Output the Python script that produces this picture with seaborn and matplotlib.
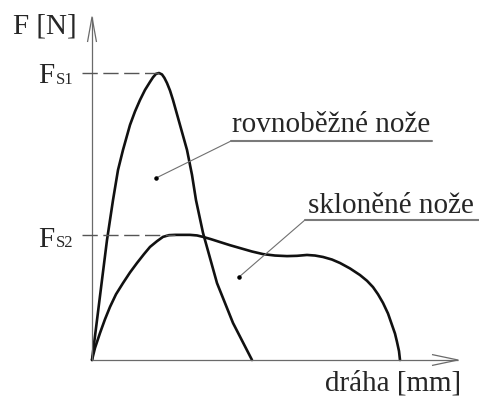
import numpy as np
import pandas as pd
import matplotlib
matplotlib.use("Agg")
import matplotlib.pyplot as plt
import seaborn as sns

# Force vs. knife travel for parallel and inclined shear blades
x_parallel = [0.0, 0.25, 0.5, 0.75, 1.05, 1.3, 1.55, 1.9, 2.15, 2.4, 2.65, 2.9, 3.05,
              3.2, 3.35, 3.5, 3.62, 3.75, 3.9, 4.05, 4.4, 4.75, 5.0, 5.2, 5.55,
              6.25, 7.05, 8.0]
f_parallel = [0.0, 13.9, 27.9, 41.8, 55.7, 66.2, 73.2, 81.9, 86.6, 90.6, 94.1, 96.9, 98.5,
              99.7, 100.0, 99.5, 98.3, 96.5, 93.9, 90.6, 81.9, 73.2, 64.5, 55.7, 44.3,
              26.8, 12.9, 0.0]

x_inclined = [0.0, 0.15, 0.4, 0.65, 0.9, 1.2, 1.55, 1.9, 2.25, 2.6, 2.9, 3.25, 3.55,
              3.85, 4.15, 4.5, 4.9, 5.25, 5.55, 5.95, 6.4, 6.9, 7.4, 8.0, 8.55, 9.15,
              9.75, 10.25, 10.75, 11.15, 11.55, 12.0, 12.4, 12.9, 13.4, 13.75, 14.05,
              14.3, 14.55, 14.8, 15.0, 15.15, 15.25, 15.35, 15.4]
f_inclined = [0.0, 4.2, 9.4, 14.2, 18.5, 22.9, 26.8, 30.5, 33.8, 36.9, 39.4, 41.4, 42.9,
              43.5, 43.6, 43.6, 43.6, 43.4, 42.9, 42.1, 41.1, 40.0, 39.0, 37.8, 36.9, 36.4,
              36.2, 36.3, 36.6, 36.4, 35.9, 35.0, 33.8, 31.9, 29.6, 27.6, 25.4,
              22.9, 19.9, 16.2, 12.2, 9.2, 6.3, 3.1, 0.0]

FS1 = 100.0
FS2 = 43.6
x_fs1 = 3.35
x_fs2 = 4.15

label_parallel = "rovnoběžné nože"
label_inclined = "skloněné nože"
label_x = "dráha [mm]"
label_y = "F [N]"

sns.set_style("white")
plt.rcParams["font.family"] = ["Liberation Serif", "DejaVu Serif"]

fig = plt.figure(figsize=(4.79, 3.99), dpi=100)
ax = fig.add_axes([0, 0, 1, 1])
ax.set_xlim(-4.6, 19.35)
ax.set_ylim(-13.59, 125.44)
ax.axis("off")

df = pd.concat([
    pd.DataFrame({"s": x_parallel, "F": f_parallel, "knife": label_parallel}),
    pd.DataFrame({"s": x_inclined, "F": f_inclined, "knife": label_inclined}),
])
sns.lineplot(data=df, x="s", y="F", units="knife", estimator=None, sort=False,
             color="#111111", lw=1.9, ax=ax, legend=False)
for line in ax.lines:
    line.set_solid_joinstyle("round")
    line.set_solid_capstyle("round")

# axes with open arrow heads
axis_kw = dict(color="#6a6a6a", lw=0.9, solid_capstyle="butt")
ax.plot([0, 0], [0, 119.5], **axis_kw)
ax.plot([0, 18.3], [0, 0], **axis_kw)
ax.plot([-0.225, 0, 0.225], [110.8, 119.5, 110.8], **axis_kw)
ax.plot([17.0, 18.3, 17.0], [1.9, 0, -1.9], **axis_kw)

# force levels
dash_kw = dict(color="#555555", lw=1.0, linestyle=(0, (11, 4)))
ax.plot([-0.5, x_fs1], [FS1, FS1], **dash_kw)
ax.plot([-0.5, x_fs2], [FS2, FS2], **dash_kw)

# leader lines with dots
lead_kw = dict(color="#707070", lw=0.8)
under_kw = dict(color="#7a7a7a", lw=1.5)
ax.plot([3.2, 6.95], [63.4, 76.3], **lead_kw)
ax.plot([6.95, 17.0], [76.3, 76.3], **under_kw)
ax.plot([7.35, 10.65], [28.9, 48.8], **lead_kw)
ax.plot([10.65, 19.35], [48.8, 48.8], **under_kw)
ax.scatter([3.2, 7.35], [63.4, 28.9], s=5, color="black", zorder=5)

fs = 21
ax.text(-3.95, 113.6, label_y, fontsize=fs, va="baseline", ha="left")
ax.text(11.65, -10.6, label_x, fontsize=fs, va="baseline", ha="left")
ax.text(7.0, 79.4, label_parallel, fontsize=fs, va="baseline", ha="left")
ax.text(10.8, 51.2, label_inclined, fontsize=fs, va="baseline", ha="left")

ax.text(-2.7, 96.5, "F", fontsize=fs, va="baseline", ha="left")
ax.text(-1.8, 96.2, "S1", fontsize=12, va="baseline", ha="left")
ax.text(-2.7, 39.4, "F", fontsize=fs, va="baseline", ha="left")
ax.text(-1.8, 39.2, "S2", fontsize=12, va="baseline", ha="left")

fig.savefig("out.png", dpi=100)
